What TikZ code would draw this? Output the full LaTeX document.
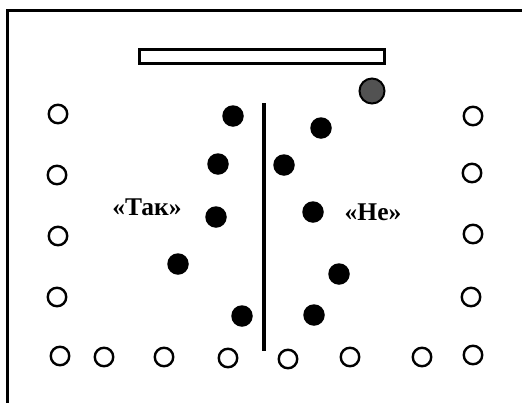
\documentclass[tikz,border=0pt]{standalone}
\usepackage{fontspec}
\setmainfont{Liberation Serif}
\begin{document}
\begin{tikzpicture}[x=1pt,y=-1pt,
  opendot/.style={circle,draw=black,line width=2.4pt,fill=white,minimum size=18.5pt,inner sep=0pt},
  fulldot/.style={circle,fill=black,minimum size=21.5pt,inner sep=0pt},
  graydot/.style={circle,draw=black,line width=2pt,fill=black!68,minimum size=25pt,inner sep=0pt},
  lbl/.style={font=\bfseries\fontsize{25.5}{27}\selectfont,inner sep=0pt}]
\useasboundingbox (0,0) rectangle (522,402);
% frame
\draw[line width=3pt] (7,410) -- (7,10) -- (530,10);
% bar
\draw[line width=2.4pt] (139.5,49.5) rectangle (384.5,63.5);
% gray ball
\node[graydot] (g) at (372,91) {};
% divider
\coordinate (vt) at (264,103);
\coordinate (vb) at (264,351);
\draw[line width=4.5pt] (vt) -- (vb);
% black dots
\node[fulldot] (b1) at (233,116) {};
\node[fulldot] (b2) at (321,128) {};
\node[fulldot] (b3) at (218,164) {};
\node[fulldot] (b4) at (284,165) {};
\node[fulldot] (b5) at (216,217) {};
\node[fulldot] (b6) at (313,212) {};
\node[fulldot] (b7) at (178,264) {};
\node[fulldot] (b8) at (339,274) {};
\node[fulldot] (b9) at (242,316) {};
\node[fulldot] (b10) at (314,315) {};
% open circles left
\node[opendot] (l1) at (58,114) {};
\node[opendot] (l2) at (57,175) {};
\node[opendot] (l3) at (58,236) {};
\node[opendot] (l4) at (57,297) {};
% right
\node[opendot] (r1) at (473,116) {};
\node[opendot] (r2) at (472,173) {};
\node[opendot] (r3) at (473,234) {};
\node[opendot] (r4) at (471,297) {};
% bottom
\node[opendot] (d1) at (60,356) {};
\node[opendot] (d2) at (104,357) {};
\node[opendot] (d3) at (164,357) {};
\node[opendot] (d4) at (228,358) {};
\node[opendot] (d5) at (288,359) {};
\node[opendot] (d6) at (350,357) {};
\node[opendot] (d7) at (422,357) {};
\node[opendot] (d8) at (473,355) {};
% labels
\node[lbl,anchor=base] (tak) at (147,215) {«Так»};
\node[lbl,anchor=base] (ne) at (373,220) {«Не»};
\end{tikzpicture}
\end{document}
